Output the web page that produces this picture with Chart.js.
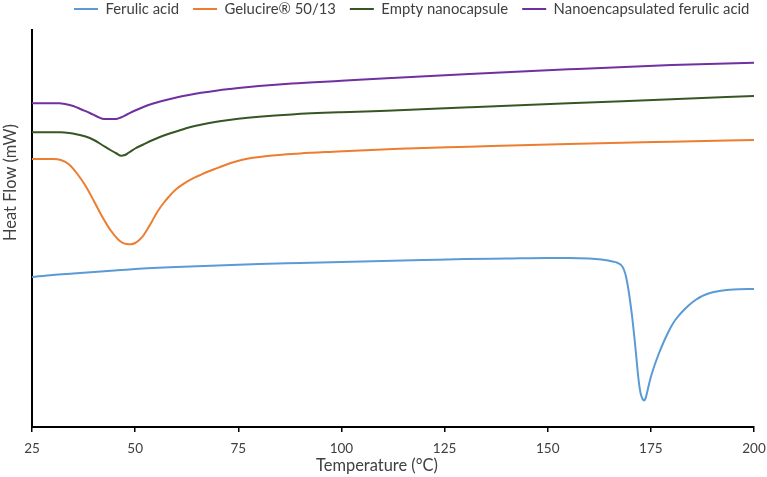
<!DOCTYPE html>
<html>
<head>
<meta charset="utf-8">
<script src="https://cdn.jsdelivr.net/npm/chart.js@4.4.1/dist/chart.umd.min.js"></script>
<style>html,body{margin:0;padding:0;background:#fff;}canvas{display:block;}</style>
</head>
<body>
<canvas id="c" width="767" height="477"></canvas>
<script>
// ---- data (heat flow in arbitrary units) ----
const seriesNames = ['Ferulic acid', 'Gelucire\u00AE 50/13', 'Empty nanocapsule', 'Nanoencapsulated ferulic acid'];
const seriesColors = ['#5B9BD5', '#ED7D31', '#375623', '#7030A0'];
const xTicks = [25, 50, 75, 100, 125, 150, 175, 200];

const ferulicT  = [25, 30, 35, 40, 45, 50, 60, 70, 80, 90, 100, 110, 120, 130, 140, 150, 155, 160, 163, 166, 167, 168, 168.5, 169, 169.5, 170, 170.5, 171, 171.5, 172, 172.5, 173, 173.3, 173.7, 174, 174.5, 175, 176, 177, 178, 179, 180, 181, 182, 183, 184, 185, 186, 187, 188, 190, 192, 195, 200];
const ferulicHF = [150, 152, 153.5, 155, 156.5, 158, 160, 161.5, 163, 164, 165, 166, 167, 168, 168.5, 169, 169, 168.5, 167.5, 165.3, 164, 161, 157, 150, 139, 125, 109, 90, 69, 48, 34, 28, 26.5, 28.5, 33, 42, 50, 63, 74, 84, 93, 101, 107.5, 112.5, 117, 121, 124.5, 127.5, 130, 132, 134.7, 136.3, 137.5, 138];

const gelucireT  = [25, 30, 32, 34, 36, 38, 40, 42, 44, 46, 47, 48, 49, 50, 51, 52, 53, 54, 55, 56, 57, 58, 60, 62, 64, 66, 68, 70, 73, 76, 82, 90, 98, 114, 131, 155, 180, 200];
const gelucireHF = [268, 268, 267, 262.5, 253, 241, 226, 210.5, 197, 187, 184.2, 183, 182.8, 184, 187, 191.5, 198, 205, 212.5, 219, 224.5, 229.5, 238, 243.8, 248.6, 252.4, 256, 259.1, 263.8, 267.3, 271, 273.6, 275.3, 278.3, 280.3, 283, 285.3, 287];

const emptyT  = [25, 32, 34, 36, 38, 40, 42, 44, 45.5, 46.6, 47.5, 48.5, 50, 52, 54, 56, 58, 60.7, 63, 65.6, 68, 70.5, 75, 80, 88, 100, 111, 131, 155, 180, 200];
const emptyHF = [294.7, 294.7, 294, 292.5, 290.5, 287, 282, 277, 273.5, 271.3, 272, 274.5, 278.5, 282.5, 286.5, 290, 293, 296.5, 299.5, 302, 304, 305.8, 308.3, 310.3, 312.6, 314.8, 316.3, 319.7, 323.7, 327.7, 331];

const nanoT  = [25, 31.6, 33, 35, 37, 39, 41, 42.5, 45.3, 46.5, 48, 50, 52, 54, 57, 60, 63, 66, 70, 75, 80, 88, 100, 111, 131, 155, 180, 200];
const nanoHF = [323.7, 323.7, 323, 321, 317.5, 314, 310, 308, 308, 309.5, 312.5, 316.5, 320, 323, 326.5, 329.5, 332, 334.2, 336.6, 339, 341, 343.5, 346.2, 348.7, 353, 357.7, 362, 364.3];

const seriesT  = [ferulicT, gelucireT, emptyT, nanoT];
const seriesHF = [ferulicHF, gelucireHF, emptyHF, nanoHF];

// ---- font sizing to match the reference text widths ----
const FAMILY = 'Lato, "Open Sans", "Liberation Sans", sans-serif';
const mctx = document.createElement('canvas').getContext('2d');
function measure100(text) { mctx.font = '100px ' + FAMILY; return mctx.measureText(text).width; }
const legendSize = 100 * 508 / seriesNames.reduce((s, n) => s + measure100(n), 0);
const tickSize = 100 * 23.5 / measure100('100');
const titleSize = 100 * 122 / measure100('Temperature (\u00B0C)');
const TEXT = '#404040';

const datasets = seriesNames.map((name, i) => ({
  label: name,
  data: seriesT[i].map((t, k) => ({x: t, y: seriesHF[i][k]})),
  borderColor: seriesColors[i],
  backgroundColor: seriesColors[i],
  borderWidth: 2,
  pointRadius: 0,
  fill: false,
  cubicInterpolationMode: 'monotone'
}));

const LEG_PAD = 14;
const layoutTweaks = {
  id: 'layoutTweaks',
  afterInit(chart) {
    const lg = chart.legend;
    const f = lg.fit;
    lg.fit = function () { f.call(this); this.height = 30; };
  },
  afterLayout(chart) {
    const lg = chart.legend;
    lg.left = 74 - LEG_PAD;
    lg.right = 1000;
    lg.top = 9 - LEG_PAD - legendSize / 2;
    const ys = chart.scales.y, xs = chart.scales.x;
    if (!ys._titleShifted) {
      const oy = ys.drawTitle;
      ys.drawTitle = function () { const b = this.bottom; this.bottom = b - 92; oy.call(this); this.bottom = b; };
      ys._titleShifted = true;
    }
    if (!xs._titleShifted) {
      const ox = xs.drawTitle;
      xs.drawTitle = function () { const r = this.right; this.right = r - 32; ox.call(this); this.right = r; };
      xs._titleShifted = true;
    }
  }
};

new Chart(document.getElementById('c'), {
  type: 'line',
  data: { datasets },
  plugins: [layoutTweaks],
  options: {
    responsive: false,
    animation: false,
    devicePixelRatio: 1,
    layout: { padding: { left: 0, right: 13, top: 0, bottom: 0 } },
    plugins: {
      tooltip: { enabled: false },
      legend: {
        display: true,
        position: 'top',
        align: 'start',
        labels: {
          usePointStyle: true,
          pointStyle: 'line',
          pointStyleWidth: 24,
          padding: LEG_PAD,
          color: TEXT,
          font: { family: FAMILY, size: legendSize }
        }
      }
    },
    scales: {
      x: {
        type: 'linear',
        min: xTicks[0],
        max: xTicks[xTicks.length - 1],
        afterBuildTicks: (s) => { s.ticks = xTicks.map(v => ({value: v})); },
        afterFit: (s) => { s.height = 50; s.paddingLeft = 0; s.paddingRight = 0; },
        grid: { display: true, drawOnChartArea: false, drawTicks: true, tickLength: 5, color: '#000', lineWidth: 1.5 },
        border: { display: true, color: '#000', width: 2 },
        ticks: { color: TEXT, font: { family: FAMILY, size: tickSize }, padding: 9, maxRotation: 0 },
        title: { display: true, text: 'Temperature (\u00B0C)', color: TEXT, font: { family: FAMILY, size: titleSize }, padding: { top: 0, bottom: 1 } }
      },
      y: {
        type: 'linear',
        min: 0,
        max: 397,
        afterFit: (s) => { s.width = 32; },
        grid: { display: false },
        border: { display: true, color: '#000', width: 2 },
        ticks: { display: false },
        title: { display: true, text: 'Heat Flow (mW)', color: TEXT, font: { family: FAMILY, size: titleSize }, padding: { top: 1, bottom: 0 } }
      }
    }
  }
});
</script>
</body>
</html>
